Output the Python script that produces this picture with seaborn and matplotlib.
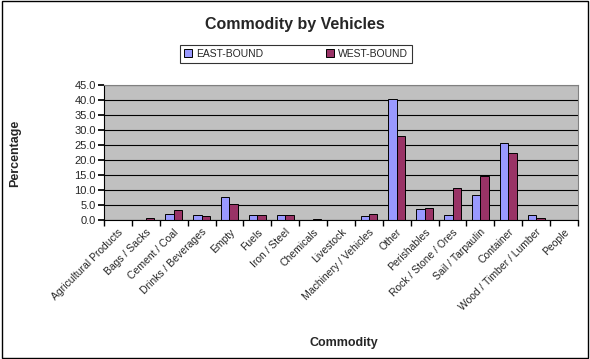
import matplotlib
matplotlib.use("Agg")
import matplotlib.pyplot as plt
import seaborn as sns
import pandas as pd
import numpy as np
from matplotlib.ticker import FormatStrFormatter, MultipleLocator, FixedLocator

categories = ["Agricultural Products", "Bags / Sacks", "Cement / Coal", "Drinks / Beverages",
              "Empty", "Fuels", "Iron / Steel", "Chemicals", "Livestock",
              "Machinery / Vehicles", "Other", "Perishables", "Rock / Stone / Ores",
              "Sail / Tarpaulin", "Container", "Wood / Timber / Lumber", "People"]
east_bound = [0.0, 0.0, 2.0, 1.6, 7.6, 1.6, 1.6, 0.0, 0.0, 1.2, 40.3, 3.6, 1.7, 8.3, 25.6, 1.7, 0.0]
west_bound = [0.0, 0.6, 3.3, 1.2, 5.2, 1.6, 1.6, 0.3, 0.0, 1.9, 28.0, 4.0, 10.6, 14.7, 22.2, 0.7, 0.0]
series_names = ["EAST-BOUND", "WEST-BOUND"]
colors = ["#9999FF", "#993366"]

df = pd.DataFrame({
    "Commodity": categories * 2,
    "Percentage": east_bound + west_bound,
    "Direction": [series_names[0]] * len(categories) + [series_names[1]] * len(categories),
})

sns.set_theme(style="white")
plt.rcParams["font.family"] = ["Liberation Sans", "DejaVu Sans"]

fig = plt.figure(figsize=(5.9, 3.59), dpi=100)
ax = fig.add_axes([104/590, 1-220/359, (578-104)/590, (220-85)/359])

sns.barplot(data=df, x="Commodity", y="Percentage", hue="Direction",
            palette=colors, width=0.6, edgecolor="black", linewidth=0.7,
            ax=ax, legend=True, saturation=1)

ax.set_facecolor("#C0C0C0")
ax.set_ylim(0, 45)
ax.set_xlim(-0.5, len(categories) - 0.5)
ax.yaxis.set_major_locator(MultipleLocator(5))
ax.yaxis.set_major_formatter(FormatStrFormatter("%.1f"))
ax.grid(axis="y", color="black", linewidth=0.8)
ax.set_axisbelow(True)

for s in ["top", "right"]:
    ax.spines[s].set_color("#808080")
    ax.spines[s].set_linewidth(0.8)
for s in ["left", "bottom"]:
    ax.spines[s].set_color("black")
    ax.spines[s].set_linewidth(0.8)

ax.set_xticks(range(len(categories)))
ax.set_xticklabels(categories, rotation=45, ha="right", rotation_mode="anchor", fontsize=7.5)
ax.tick_params(axis="x", length=0, pad=5)
ax.xaxis.set_minor_locator(FixedLocator(np.arange(-0.5, len(categories), 1.0)))
ax.tick_params(axis="x", which="minor", length=4, direction="out", color="black", bottom=True)
ax.tick_params(axis="y", length=4, direction="out", color="black", left=True, labelsize=8, pad=2)

ax.set_xlabel("Commodity", fontsize=9, fontweight="bold")
ax.set_ylabel("Percentage", fontsize=9, fontweight="bold")
ax.xaxis.set_label_coords(344/590, 1-343/359, transform=fig.transFigure)
ax.xaxis.label.set_va("center")
ax.yaxis.set_label_coords(15/590, 1-153/359, transform=fig.transFigure)
ax.yaxis.label.set_va("center")

fig.text(295/590, 1-24/359, "Commodity by Vehicles", ha="center", va="center",
         fontsize=11.5, fontweight="bold")

leg = ax.legend(loc="center", bbox_to_anchor=(296/590, 1-54/359),
                bbox_transform=fig.transFigure, ncol=2, frameon=True, fontsize=7.5,
                fancybox=False, edgecolor="black", handlelength=0.8, handleheight=0.8,
                columnspacing=6, handletextpad=0.4, borderpad=0.4)
leg.get_frame().set_linewidth(0.8)
leg.set_title(None)

border = plt.Rectangle((0.003, 0.004), 0.994, 0.992, transform=fig.transFigure,
                       fill=False, edgecolor="black", linewidth=1)
fig.patches.append(border)

fig.savefig("out.png", dpi=100, facecolor="white")
